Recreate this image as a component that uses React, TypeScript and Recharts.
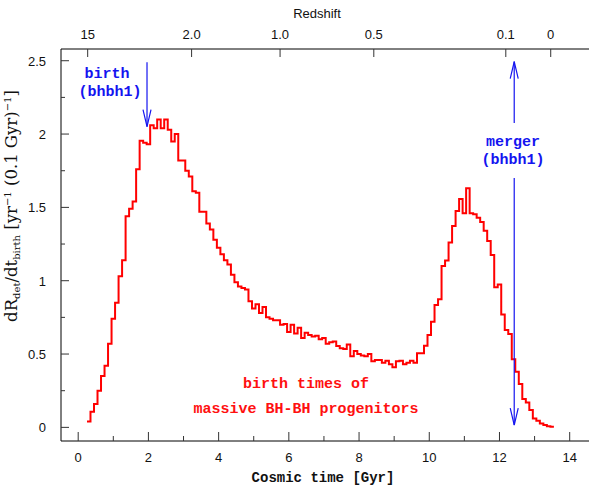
import { LineChart, Line, XAxis, YAxis, ReferenceLine } from 'recharts';

// histogram of birth times, 0.1 Gyr bins
const BIN_START = 0.25;
const BIN_WIDTH = 0.1;
const birthRate = [
  0.04, 0.106, 0.16, 0.25, 0.35, 0.42, 0.57, 0.74, 0.85, 1.03,
  1.14, 1.44, 1.49, 1.54, 1.76, 1.955, 1.94, 1.93, 2.06, 2.04,
  2.1, 2.04, 2.1, 2.03, 1.95, 2.0, 1.82, 1.82, 1.75, 1.71,
  1.61, 1.6, 1.47, 1.47, 1.39, 1.35, 1.28, 1.225, 1.18, 1.14,
  1.11, 1.04, 0.99, 0.96, 0.95, 0.94, 0.86, 0.81, 0.84, 0.78,
  0.82, 0.75, 0.74, 0.73, 0.73, 0.7, 0.705, 0.65, 0.7, 0.64,
  0.68, 0.61, 0.645, 0.63, 0.62, 0.625, 0.6, 0.61, 0.57, 0.58,
  0.585, 0.555, 0.54, 0.535, 0.565, 0.485, 0.52, 0.5, 0.49, 0.485,
  0.5, 0.45, 0.46, 0.46, 0.44, 0.455, 0.43, 0.41, 0.45, 0.455,
  0.43, 0.44, 0.455, 0.44, 0.505, 0.505, 0.557, 0.63, 0.72, 0.834,
  0.873, 1.1, 1.137, 1.26, 1.373, 1.475, 1.557, 1.46, 1.63, 1.46,
  1.453, 1.43, 1.4, 1.34, 1.27, 1.175, 0.955, 0.975, 0.77, 0.664,
  0.636, 0.464, 0.38, 0.295, 0.193, 0.17, 0.118, 0.061, 0.045, 0.027,
  0.016, 0.008, 0.004,
];

const timeTicks = [0, 1, 2, 3, 4, 5, 6, 7, 8, 9, 10, 11, 12, 13, 14];
const rateTicks = [0, 0.25, 0.5, 0.75, 1, 1.25, 1.5, 1.75, 2, 2.25, 2.5];
const redshiftTimes = [0.27, 3.23, 5.75, 8.42, 12.18, 13.46];
const redshiftLabels = ['15', '2.0', '1.0', '0.5', '0.1', '0'];

const birthTime = 1.96;
const mergerTime = 12.42;

const data = birthRate.map((v, i) => ({ t: +(BIN_START + BIN_WIDTH * i).toFixed(3), v }));
data.push({ t: +(BIN_START + BIN_WIDTH * birthRate.length).toFixed(3), v: birthRate[birthRate.length - 1] });

const SANS = '"Liberation Sans", Arial, sans-serif';
const MONO = '"Liberation Mono", "DejaVu Sans Mono", monospace';
const SERIF = '"DejaVu Serif", "Liberation Serif", serif';
const BLUE = '#1414f0';
const T_DOMAIN: [number, number] = [-0.49, 14.55];

const BottomTick = ({ x, y, payload }: any) => {
  const major = payload.value % 2 === 0;
  return (
    <g>
      <line x1={x} y1={y} x2={x} y2={y - (major ? 9 : 5)} stroke="#333" />
      {major && (
        <text x={x} y={y + 21} textAnchor="middle" fontFamily={SANS} fontSize={13} fill="#111">
          {payload.value}
        </text>
      )}
    </g>
  );
};

const LeftTick = ({ x, y, payload }: any) => {
  const v = payload.value;
  const major = Math.abs(v * 2 - Math.round(v * 2)) < 1e-6;
  return (
    <g>
      <line x1={x} y1={y} x2={x + (major ? 8 : 4)} y2={y} stroke="#333" />
      {major && (
        <text x={x - 15} y={y + 5} textAnchor="end" fontFamily={SANS} fontSize={13} fill="#111">
          {v}
        </text>
      )}
    </g>
  );
};

const TopTick = ({ x, y, payload }: any) => {
  const idx = redshiftTimes.findIndex((t) => Math.abs(t - payload.value) < 1e-6);
  return (
    <g>
      <line x1={x} y1={y} x2={x} y2={y + 8} stroke="#333" />
      <text x={x} y={y - 10} textAnchor="middle" fontFamily={SANS} fontSize={13} fill="#111">
        {redshiftLabels[idx]}
      </text>
    </g>
  );
};

const Arrow = (props: any) => {
  const { x1, y1, x2, y2 } = props;
  const dir = y2 > y1 ? 1 : -1;
  return (
    <g stroke={BLUE} strokeWidth={1.2} fill="none">
      <line x1={x1} y1={y1} x2={x2} y2={y2} />
      <polyline points={`${x2 - 4},${y2 - dir * 17} ${x2},${y2} ${x2 + 4},${y2 - dir * 17}`} />
    </g>
  );
};

export default function App() {
  return (
    <div style={{ position: 'absolute', left: 0, top: 0, width: 589, height: 485, background: '#fff' }}>
      <LineChart width={589} height={485} data={data} margin={{ top: 48, right: 0, bottom: 43, left: 60 }}>
        <XAxis
          dataKey="t"
          type="number"
          domain={T_DOMAIN}
          allowDataOverflow
          ticks={timeTicks}
          interval={0}
          height={1}
          tickSize={0}
          tickMargin={0}
          tickLine={false}
          tick={BottomTick}
          axisLine={{ stroke: '#000' }}
        />
        <XAxis
          xAxisId="z"
          dataKey="t"
          orientation="top"
          type="number"
          domain={T_DOMAIN}
          allowDataOverflow
          ticks={redshiftTimes}
          interval={0}
          height={1}
          tickSize={0}
          tickMargin={0}
          tickLine={false}
          tick={TopTick}
          axisLine={{ stroke: '#000' }}
        />
        <YAxis
          type="number"
          domain={[-0.093, 2.58]}
          allowDataOverflow
          ticks={rateTicks}
          interval={0}
          width={1}
          tickSize={0}
          tickMargin={0}
          tickLine={false}
          tick={LeftTick}
          axisLine={{ stroke: '#000' }}
        />
        {/* invisible series so the redshift axis gets a numeric scale */}
        <Line
          xAxisId="z"
          type="stepAfter"
          dataKey="v"
          stroke="none"
          dot={false}
          activeDot={false}
          isAnimationActive={false}
        />
        <Line
          type="stepAfter"
          dataKey="v"
          stroke="#ff0000"
          strokeWidth={2}
          dot={false}
          isAnimationActive={false}
        />
        <ReferenceLine segment={[{ x: birthTime, y: 2.49 }, { x: birthTime, y: 2.05 }]} shape={Arrow} />
        <ReferenceLine segment={[{ x: mergerTime, y: 2.076 }, { x: mergerTime, y: 2.494 }]} shape={Arrow} />
        <ReferenceLine segment={[{ x: mergerTime, y: 1.7 }, { x: mergerTime, y: 0.016 }]} shape={Arrow} />
      </LineChart>
      <svg width={589} height={485} style={{ position: 'absolute', left: 0, top: 0, pointerEvents: 'none' }}>
        <text x={317} y={18} textAnchor="middle" fontFamily={SANS} fontSize={13} fill="#111">Redshift</text>
        <text x={323} y={482} textAnchor="middle" fontFamily={MONO} fontSize={14} fontWeight="bold" fill="#111">
          Cosmic time [Gyr]
        </text>
        <text transform="translate(17,206) rotate(-90)" textAnchor="middle" fontFamily={SERIF} fontSize={16.5} fill="#111">
          dR<tspan dy={3} fontSize={10}>det</tspan>
          <tspan dy={-3}>/dt</tspan>
          <tspan dy={3} fontSize={10}>birth</tspan>
          <tspan dy={-3}> [yr</tspan>
          <tspan dy={-6} fontSize={10}>−1</tspan>
          <tspan dy={6}> (0.1 Gyr)</tspan>
          <tspan dy={-6} fontSize={10}>−1</tspan>
          <tspan dy={6}>]</tspan>
        </text>
        <g fontFamily={MONO} fontSize={15} fontWeight="bold" fill={BLUE} textAnchor="middle">
          <text x={107} y={78}>birth</text>
          <text x={110} y={96}>(bhbh1)</text>
          <text x={513} y={146}>merger</text>
          <text x={513} y={164}>(bhbh1)</text>
        </g>
        <g fontFamily={MONO} fontSize={15} fontWeight="bold" fill="#ff1010" textAnchor="middle">
          <text x={306} y={388}>birth times of</text>
          <text x={306} y={413}>massive BH-BH progenitors</text>
        </g>
      </svg>
    </div>
  );
}
